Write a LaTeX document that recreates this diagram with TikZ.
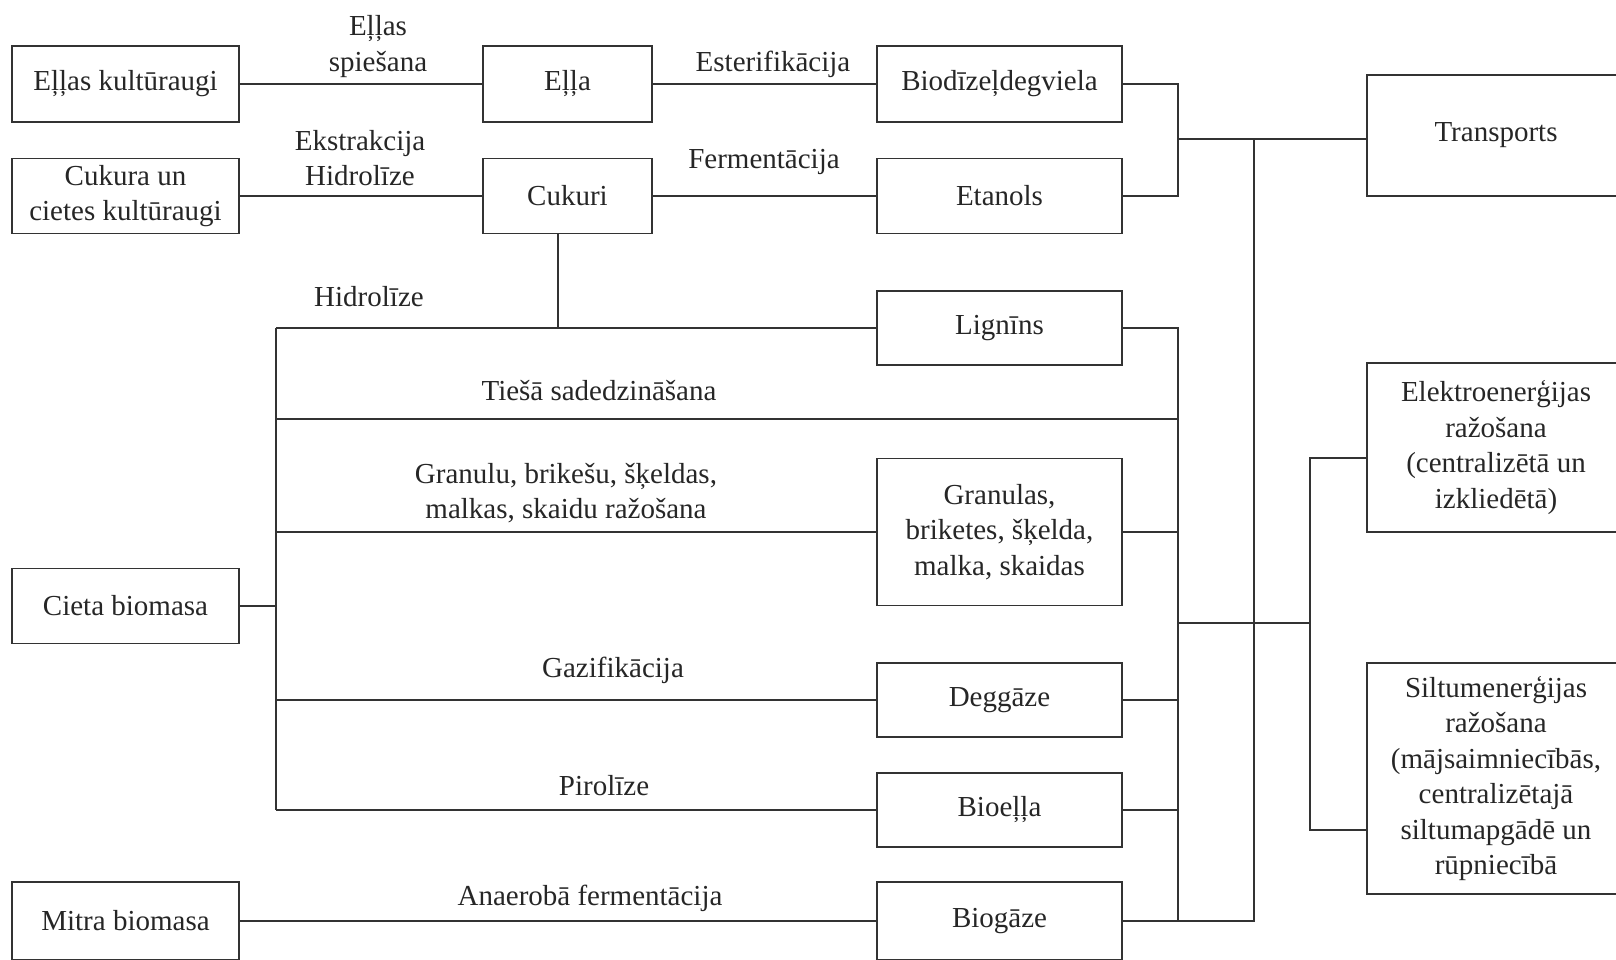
\documentclass[tikz,border=0pt]{standalone}
\usepackage{fontspec}
\setmainfont{Liberation Serif}
\newcommand\fs{\fontsize{29}{35.5}\selectfont}
\begin{document}
\begin{tikzpicture}[x=1pt,y=-1pt,
  box/.style={draw=black!80, line width=1.8pt, inner sep=0pt, align=center, font=\fs, text=black!85},
  lab/.style={inner sep=0pt, align=center, font=\fs, text=black!85},
  conn/.style={draw=black!80, line width=1.8pt}]
\useasboundingbox (0,0) rectangle (1616,959);
% left column
\node[box, minimum width=227pt, minimum height=76pt] (ek) at (125.5,84) {Eļļas kultūraugi};
\node[box, minimum width=227pt, minimum height=75pt] (ck) at (125.5,196) {Cukura un\\cietes kultūraugi};
\node[box, minimum width=227pt, minimum height=75pt] (cieta) at (125.5,606) {Cieta biomasa};
\node[box, minimum width=227pt, minimum height=78pt] (mitra) at (125.5,921) {Mitra biomasa};
% middle
\node[box, minimum width=169pt, minimum height=76pt] (ella) at (567.5,84) {Eļļa};
\node[box, minimum width=169pt, minimum height=75pt] (cuk) at (567.5,196) {Cukuri};
% products
\node[box, minimum width=245pt, minimum height=76pt] (bio) at (999.5,84) {Biodīzeļdegviela};
\node[box, minimum width=245pt, minimum height=75pt] (etan) at (999.5,196) {Etanols};
\node[box, minimum width=245pt, minimum height=74pt] (lign) at (999.5,328) {Lignīns};
\node[box, minimum width=245pt, minimum height=147pt] (gran) at (999.5,532) {Granulas,\\briketes, šķelda,\\malka, skaidas};
\node[box, minimum width=245pt, minimum height=74pt] (degg) at (999.5,700) {Deggāze};
\node[box, minimum width=245pt, minimum height=74pt] (bioe) at (999.5,810) {Bioeļļa};
\node[box, minimum width=245pt, minimum height=78pt] (biog) at (999.5,921) {Biogāze};
% uses
\node[box, minimum width=258pt, minimum height=121pt] (trans) at (1496,135.5) {Transports};
\node[box, minimum width=258pt, minimum height=169pt] (elek) at (1496,447.5) {Elektroenerģijas\\ražošana\\(centralizētā un\\izkliedētā)};
\node[box, minimum width=258pt, minimum height=231pt] (silt) at (1496,778.5) {Siltumenerģijas\\ražošana\\(mājsaimniecībās,\\centralizētajā\\siltumapgādē un\\rūpniecībā};
% labels
\node[lab] (l1) at (378,46.5) {Eļļas\\spiešana};
\node[lab] (l2) at (360,158) {Ekstrakcija\\Hidrolīze};
\node[lab] (l3) at (773,64) {Esterifikācija};
\node[lab] (l4) at (764,162) {Fermentācija};
\node[lab] (l5) at (369,297) {Hidrolīze};
\node[lab] (l6) at (599,391) {Tiešā sadedzināšana};
\node[lab] (l7) at (566,493) {Granulu, brikešu, šķeldas,\\malkas, skaidu ražošana};
\node[lab] (l8) at (613,670) {Gazifikācija};
\node[lab] (l9) at (604,786) {Pirolīze};
\node[lab] (l10) at (590,898) {Anaerobā fermentācija};
% coordinates
\coordinate (tj) at (1178,139);
\coordinate (b2) at (1254,139);
\coordinate (b2bot) at (1254,921);
\coordinate (cv) at (558,328);
\coordinate (lt) at (276,328);
\coordinate (lb) at (276,810);
\coordinate (ts) at (276,419);
\coordinate (rt) at (1178,328);
\coordinate (rb) at (1178,921);
\coordinate (m1) at (1178,623);
\coordinate (m2) at (1310,623);
\coordinate (e3) at (1310,458);
\coordinate (s3) at (1310,830);
% connectors top
\draw[conn] (ek) -- (ella);
\draw[conn] (ck) -- (cuk);
\draw[conn] (ella) -- (bio);
\draw[conn] (cuk) -- (etan);
\draw[conn] (bio.east) -| (tj) |- (etan.east);
\draw[conn] (tj) -- (tj -| trans.west);
\draw[conn] (biog.east) -- (b2bot) -- (b2);
% left bus
\draw[conn] (cv |- cuk.south) -- (cv);
\draw[conn] (cieta.east) -- (cieta.east -| lt);
\draw[conn] (lt) -- (lb);
\draw[conn] (lt) -- (lign.west);
\draw[conn] (ts) -- (ts -| rt);
\draw[conn] (gran.west -| lt) -- (gran.west);
\draw[conn] (degg.west -| lt) -- (degg.west);
\draw[conn] (lb) -- (bioe.west);
\draw[conn] (mitra) -- (biog);
% right bus
\draw[conn] (lign.east) -- (rt) -- (rb);
\draw[conn] (gran.east) -- (gran.east -| rt);
\draw[conn] (degg.east) -- (degg.east -| rt);
\draw[conn] (bioe.east) -- (bioe.east -| rt);
\draw[conn] (m1) -- (m2);
\draw[conn] (elek.west |- e3) -- (e3) -- (s3) -- (silt.west |- s3);
\end{tikzpicture}
\end{document}
